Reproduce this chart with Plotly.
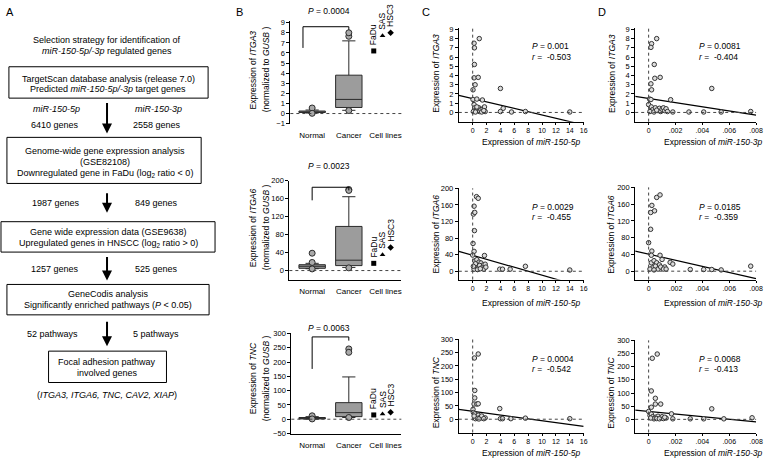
import plotly.graph_objects as go

W, H = 773, 464
FONT = "Liberation Sans, Arial, Helvetica, sans-serif"


def px(x):
    return x / W


def py(y):
    return 1 - y / H


# ---------------- data: panel B (box plots) ----------------
box_x = [0, 1]
cat_ticks = [0, 1, 2]
cat_labels = ["Normal", "Cancer", "Cell lines"]
cell_lines = ["FaDu", "SAS", "HSC3"]
cell_x = [1.68, 1.92, 2.14]
cell_symbols = ["square", "triangle-up", "diamond"]

itga3_q1 = [0.10, 0.60]
itga3_med = [0.15, 1.40]
itga3_q3 = [0.25, 3.80]
itga3_lo = [0.05, 0.32]
itga3_hi = [0.35, 7.20]
itga3_out_x = [0, 0, 1, 1, 1]
itga3_out_y = [0.55, 0.02, 7.65, 8.0, 0.30]
itga3_cells = [6.2, 7.7, 8.0]

itga6_q1 = [5, 11]
itga6_med = [9.5, 23]
itga6_q3 = [13, 98]
itga6_lo = [4, 7]
itga6_hi = [16, 164]
itga6_out_x = [0, 0, 0, 1, 1, 1]
itga6_out_y = [38.5, 18, 3.6, 180, 178, 6]
itga6_cells = [16, 35, 51]

tnc_q1 = [1, 9]
tnc_med = [3, 23]
tnc_q3 = [6, 58]
tnc_lo = [0, 6]
tnc_hi = [9, 148]
tnc_out_x = [0, 0, 1, 1, 1]
tnc_out_y = [12, 1, 246, 234, 6]
tnc_cells = [15, 18, 24]

p_box = ["0.0004", "0.0023", "0.0063"]

# ---------------- data: panels C / D (scatter) ----------------
c1_x = [0.95, 0.2, 0.25, 0.25, 0.2, 0.8, 0.35, 0.05, 4.0, 0.05, 0.6, 1.4, 0.2,
        0.3, 0.5, 0.7, 0.9, 1.0, 1.2, 1.5, 1.7, 1.8, 0.1, 0.4, 1.3, 0.6, 1.6,
        4.4, 4.0, 5.6, 7.6, 14.0]
c1_y = [8.0, 7.5, 7.0, 5.2, 3.75, 3.8, 3.0, 2.45, 2.6, 1.4, 1.45, 1.35, 0.85,
        0.5, 0.3, 0.2, 0.5, 0.1, 0.3, 0.4, 0.6, 0.1, 0.1, 0.05, 0.05, 0.6, 0.2,
        0.45, 0.1, 0.05, 0.1, 0.05]
c2_x = [0.55, 0.8, 0.2, 0.1, 0.3, 0.25, 0.05, 0.2, 0.0, 1.7,
        0.3, 0.6, 0.9, 1.2, 1.5, 1.8, 0.5, 0.8, 1.0, 1.3, 1.6, 0.2, 0.4, 0.7, 1.1, 1.9, 0.1,
        3.9, 4.3, 5.4, 7.6, 14.0]
c2_y = [180, 176, 157, 138, 142, 98, 67, 48, 39, 38,
        25, 28, 22, 20, 15, 17, 12, 10, 14, 8, 5, 5, 18, 4, 6, 10, 12,
        5, 5, 5, 12, 3]
c3_x = [0.25, 0.8, 0.3, 0.3, 0.2, 0.6, 0.8, 0.05, 3.9,
        0.1, 0.3, 0.5, 0.8, 1.0, 1.2, 1.5, 1.8, 0.4, 0.7, 1.3, 1.6, 0.2, 0.9,
        4.0, 4.3, 5.5, 7.6, 14.0]
c3_y = [230, 245, 108, 80, 57, 57, 58, 37, 40,
        25, 20, 10, 15, 5, 8, 3, 5, 2, 3, 12, 2, 12, 1,
        2, 2, 2, 4, 2]
d1_x = [0.0006, 0.00022, 0.00017, 0.00042, 0.00046, 0.00086, 0.00017, 0.00022, 0.0047,
        0.00007, 0.00017, 0.00164, 0.0,
        0.0002, 0.0003, 0.0005, 0.0007, 0.0008, 0.0009, 0.001, 0.0011, 0.0012, 0.0013,
        0.0001, 0.0004, 0.0006, 0.0014,
        0.0018, 0.003, 0.0041, 0.0054, 0.0076]
d1_y = [8.0, 7.45, 7.05, 5.2, 3.7, 3.8, 3.1, 2.45, 2.6, 1.45, 1.4, 1.38, 0.85,
        0.6, 0.3, 0.5, 0.2, 0.45, 0.1, 0.35, 0.5, 0.2, 0.4, 0.1, 0.05, 0.25, 0.1,
        0.05, 0.05, 0.05, 0.05, 0.1]
d2_x = [0.0006, 0.00085, 0.00024, 0.00044, 0.00015, 0.00015, 0.0, 0.00024, 0.0002,
        0.00085, 0.0016, 0.0018,
        0.0002, 0.0004, 0.0006, 0.0008, 0.001, 0.0012, 0.0003, 0.0005, 0.0007, 0.0009,
        0.0011, 0.0013, 0.0001, 0.0004,
        0.0031, 0.0041, 0.0047, 0.0054, 0.0076]
d2_y = [176, 182, 157, 144, 140, 100, 68, 48, 38, 38, 21, 17,
        20, 25, 20, 15, 28, 10, 8, 12, 5, 10, 5, 5, 5, 3,
        4, 4, 4, 3, 12]
d3_x = [0.00027, 0.00064, 0.0002, 0.0005, 0.0005, 0.0009, 0.0002, 0.0, 0.0047, 0.0017,
        0.0001, 0.0002, 0.0003, 0.0005, 0.0007, 0.0009, 0.001, 0.0011, 0.0013, 0.0004,
        0.0006, 0.0008, 0.0012, 0.00015,
        0.0018, 0.0031, 0.0041, 0.0056, 0.0077]
d3_y = [232, 248, 108, 80, 58, 58, 46, 30, 40, 21,
        15, 20, 10, 8, 12, 5, 10, 3, 5, 2, 3, 2, 8, 5,
        2, 2, 2, 2, 6]

reg_slopes = [-0.178, -4.8, -3.56, -225.6, -7333.0, -4945.0]
reg_intercepts = [1.5, 38.5, 30.0, 1.52, 40.7, 30.0]
p_vals = ["0.001", "0.0029", "0.0004", "0.0081", "0.0185", "0.0068"]
r_vals = ["-0.503", "-0.455", "-0.542", "-0.404", "-0.359", "-0.413"]

genes = ["ITGA3", "ITGA6", "TNC"]
y_ranges = [[-1, 9.2], [-20, 200], [-50, 300]]
y_ticks_box = [list(range(-1, 10)), [0, 40, 80, 120, 160, 200], [-50, 0, 50, 100, 150, 200, 250, 300]]
y_ticks_sc = [list(range(0, 10)), [0, 40, 80, 120, 160, 200], [0, 50, 100, 150, 200, 250, 300]]
c_xticks = [0, 2, 4, 6, 8, 10, 12, 14, 16]
d_xticks = [0, 0.002, 0.004, 0.006, 0.008]
d_xticktext = ["0", ".002", ".004", ".006", ".008"]

# ---------------- layout geometry (pixels) ----------------
B_XDOM = [(293, 405), (292, 405), (294, 405)]
B_YDOM = [(17, 122), (180, 281), (336, 438)]
C_XDOM = (463, 589)
C_YDOM = [(24, 120), (188, 281), (342, 437)]
D_XDOM = (641, 763)
D_YDOM = [(24, 120), (187, 281), (343, 437)]
B_ZERO_PX, B_UNIT_PX = 315, 37

fig = go.Figure()
layout = dict(
    width=W, height=H, margin=dict(l=0, r=0, t=0, b=0),
    paper_bgcolor="white", plot_bgcolor="rgba(0,0,0,0)",
    showlegend=False, font=dict(family=FONT, color="black", size=8),
)
shapes = []
annotations = []

AX = dict(showgrid=False, zeroline=False, showline=True, linecolor="black", linewidth=1,
          ticks="outside", ticklen=3, tickwidth=1, tickcolor="black",
          tickfont=dict(size=7.5, family=FONT, color="black"))


def ax_name(i, kind):
    return f"{kind}axis" if i == 1 else f"{kind}axis{i}"


def ref(i, kind):
    return kind if i == 1 else f"{kind}{i}"


def ann(text, x, y, size=8, xanchor="center", yanchor="middle", angle=0, **kw):
    annotations.append(dict(text=text, x=px(x), y=py(y), xref="paper", yref="paper",
                            showarrow=False, xanchor=xanchor, yanchor=yanchor,
                            textangle=angle, font=dict(size=size, family=FONT, color="black"), **kw))


# ---------------- Panel B ----------------
box_sets = [
    (itga3_q1, itga3_med, itga3_q3, itga3_lo, itga3_hi, itga3_out_x, itga3_out_y, itga3_cells),
    (itga6_q1, itga6_med, itga6_q3, itga6_lo, itga6_hi, itga6_out_x, itga6_out_y, itga6_cells),
    (tnc_q1, tnc_med, tnc_q3, tnc_lo, tnc_hi, tnc_out_x, tnc_out_y, tnc_cells),
]
brackets = [(-0.25, 6.5, 8.6, 8.3), (0, 156, 185, 178), (0, 176, 288, 275)]
p_box_pos = [(332, 7), (332, 165), (332, 330)]
b_title_y = [67, 228, 382]

for k in range(3):
    i = k + 1
    q1, med, q3, lo, hi, ox, oy, cells = box_sets[k]
    xd, yd = B_XDOM[k], B_YDOM[k]
    xr = [(xd[0] - B_ZERO_PX) / B_UNIT_PX, (xd[1] - B_ZERO_PX) / B_UNIT_PX]
    layout[ax_name(i, "x")] = dict(AX, domain=[px(xd[0]), px(xd[1])], range=xr, anchor=ref(i, "y"),
                                   tickvals=cat_ticks, ticktext=cat_labels, ticklen=4,
                                   tickcolor="white", showline=(k != 0),
                                   tickfont=dict(size=8, family=FONT, color="#000000"))
    layout[ax_name(i, "y")] = dict(AX, domain=[py(yd[1]), py(yd[0])], range=y_ranges[k],
                                   anchor=ref(i, "x"), tickvals=y_ticks_box[k])
    xa, ya = ref(i, "x"), ref(i, "y")
    fig.add_trace(go.Box(x=box_x, q1=q1, median=med, q3=q3, lowerfence=lo, upperfence=hi,
                         width=0.72, whiskerwidth=0.5, boxpoints=False,
                         fillcolor="#9c9c9c", line=dict(color="#2a2a2a", width=1),
                         xaxis=xa, yaxis=ya))
    fig.add_trace(go.Scatter(x=ox, y=oy, mode="markers", xaxis=xa, yaxis=ya, cliponaxis=False,
                             marker=dict(symbol="circle", size=6, color="#a9a9a9",
                                         line=dict(color="#2a2a2a", width=1))))
    fig.add_trace(go.Scatter(x=cell_x, y=cells, mode="markers", xaxis=xa, yaxis=ya, cliponaxis=False,
                             marker=dict(symbol=cell_symbols, size=5, color="black")))
    for name, cx, cy in zip(cell_lines, cell_x, cells):
        annotations.append(dict(text=name, x=cx, y=cy, xref=xa, yref=ya, showarrow=False,
                                textangle=-90, xanchor="center", yanchor="bottom", yshift=4,
                                font=dict(size=8.5, family=FONT, color="black")))
    # dotted zero line
    shapes.append(dict(type="line", xref=f"{xa} domain", yref=ya, x0=0, x1=1, y0=0, y1=0,
                       line=dict(color="#444", width=1, dash="dot")))
    # significance bracket
    bl, ylb, ytop, yrb = brackets[k]
    for (x0, y0, x1, y1) in [(bl, ylb, bl, ytop), (bl, ytop, 1, ytop), (1, ytop, 1, yrb)]:
        shapes.append(dict(type="line", xref=xa, yref=ya, x0=x0, y0=y0, x1=x1, y1=y1,
                           line=dict(color="black", width=1)))
    ann(f"<i>P</i> = {p_box[k]}", p_box_pos[k][0], p_box_pos[k][1], size=8.5)
    ann(f"Expression of <i>{genes[k]}</i>", 255, b_title_y[k], size=8.5, angle=-90)
    ann("(normalized to <i>GUSB</i> )", 268, b_title_y[k], size=8.5, angle=-90)

# ---------------- Panels C and D ----------------
sc_x = [c1_x, c2_x, c3_x, d1_x, d2_x, d3_x]
sc_y = [c1_y, c2_y, c3_y, d1_y, d2_y, d3_y]
y_title_cy = [71, 235, 396]
x_title_y = [141, 305, 458]
stat_y = [(43, 54), (207, 217), (362, 372)]

for j in range(6):
    i = j + 4
    k = j % 3
    is_c = j < 3
    xd = C_XDOM if is_c else D_XDOM
    yd = (C_YDOM if is_c else D_YDOM)[k]
    xr = [-2, 16] if is_c else [-0.001, 0.008]
    xa_d = dict(AX, domain=[px(xd[0]), px(xd[1])], range=xr, anchor=ref(i, "y"), ticklen=2,
                tickfont=dict(size=7, family=FONT, color="black"))
    if is_c:
        xa_d.update(tickvals=c_xticks)
    else:
        xa_d.update(tickvals=d_xticks, ticktext=d_xticktext)
    layout[ax_name(i, "x")] = xa_d
    layout[ax_name(i, "y")] = dict(AX, domain=[py(yd[1]), py(yd[0])], range=y_ranges[k],
                                   anchor=ref(i, "x"), tickvals=y_ticks_sc[k])
    xa, ya = ref(i, "x"), ref(i, "y")
    shapes.append(dict(type="line", xref=f"{xa} domain", yref=ya, x0=0, x1=1, y0=0, y1=0,
                       line=dict(color="#444", width=1, dash="dot")))
    shapes.append(dict(type="line", xref=xa, yref=f"{ya} domain", x0=0, x1=0, y0=0, y1=1,
                       line=dict(color="#444", width=1, dash="dot")))
    lx = [xr[0], xr[1]]
    ly = [reg_intercepts[j] + reg_slopes[j] * v for v in lx]
    fig.add_trace(go.Scatter(x=lx, y=ly, mode="lines", xaxis=xa, yaxis=ya,
                             line=dict(color="black", width=1.2)))
    fig.add_trace(go.Scatter(x=sc_x[j], y=sc_y[j], mode="markers", xaxis=xa, yaxis=ya,
                             cliponaxis=False,
                             marker=dict(symbol="circle", size=4.5, color="#dcdcdc",
                                         line=dict(color="#333333", width=1))))
    tx = 535 if is_c else 703
    ann(f"<i>P</i> = {p_vals[j]}", tx, stat_y[k][0], size=8.5, xanchor="left")
    ann(f"<i>r</i> =  {r_vals[j]}", tx, stat_y[k][1], size=8.5, xanchor="left")
    ann(f"Expression of <i>{genes[k]}</i>", 440 if is_c else 617, y_title_cy[k], size=8.5, angle=-90)
    mir = "miR-150-5p" if is_c else "miR-150-3p"
    ann(f"Expression of <i>{mir}</i>", 536 if is_c else 720, x_title_y[k], size=8.5)

# ---------------- Panel letters ----------------
for letter, lx_, ly_ in [("A", 10, 8), ("B", 242, 8), ("C", 430, 8), ("D", 607, 8)]:
    ann(letter, lx_, ly_, size=11)

# ---------------- Panel A: flow chart ----------------
AF = 9
ann("Selection strategy for identification of", 108, 37, size=AF)
ann("<i>miR-150-5p/-3p</i> regulated genes", 108, 48, size=AF)

boxes_px = [(9, 64, 210, 96), (7, 136, 203, 183), (1, 222, 217, 253), (7, 286, 211, 317), (49, 354, 168, 386)]
for (x0, y0, x1, y1) in boxes_px:
    shapes.append(dict(type="rect", xref="paper", yref="paper", x0=px(x0), x1=px(x1),
                       y0=py(y1), y1=py(y0), line=dict(color="black", width=1), fillcolor="rgba(0,0,0,0)"))

ann("TargetScan database analysis (release 7.0)", 109, 76, size=AF)
ann("Predicted <i>miR-150-5p/-3p</i> target genes", 109, 87, size=AF)
ann("<i>miR-150-5p</i>", 57, 107, size=AF)
ann("<i>miR-150-3p</i>", 160, 107, size=AF)
ann("6410 genes", 55, 123, size=AF)
ann("2558 genes", 158, 123, size=AF)
ann("Genome-wide gene expression analysis", 106, 150, size=AF)
ann("(GSE82108)", 106, 161, size=AF)
ann("Downregulated gene in FaDu (log<sub>2</sub> ratio &lt; 0)", 106, 173, size=AF)
ann("1987 genes", 57, 203, size=AF)
ann("849 genes", 158, 203, size=AF)
ann("Gene wide expression data (GSE9638)", 109, 233, size=AF)
ann("Upregulated genes in HNSCC (log<sub>2</sub> ratio &gt; 0)", 109, 244, size=AF)
ann("1257 genes", 55, 270, size=AF)
ann("525 genes", 158, 270, size=AF)
ann("GeneCodis analysis", 109, 296, size=AF)
ann("Significantly enriched pathways (<i>P</i> &lt; 0.05)", 109, 307, size=AF)
ann("52 pathways", 53, 337, size=AF)
ann("5 pathways", 157, 337, size=AF)
ann("Focal adhesion pathway", 108, 365, size=AF)
ann("involved genes", 108, 376, size=AF)
ann("(<i>ITGA3, ITGA6, TNC, CAV2, XIAP</i>)", 108, 399, size=AF)

for tail, head in [(100, 132), (192, 213), (257, 282), (323, 349)]:
    annotations.append(dict(x=px(108), y=py(head), xref="paper", yref="paper", text="",
                            showarrow=True, ax=0, ay=-(head - tail), arrowhead=2,
                            arrowsize=1, arrowwidth=2, arrowcolor="black", standoff=0))

layout["shapes"] = shapes
layout["annotations"] = annotations
fig.update_layout(**layout)

fig.write_html("out.html", config={"displayModeBar": False},
               post_script="document.body.style.margin='0';document.body.style.overflow='hidden';")
